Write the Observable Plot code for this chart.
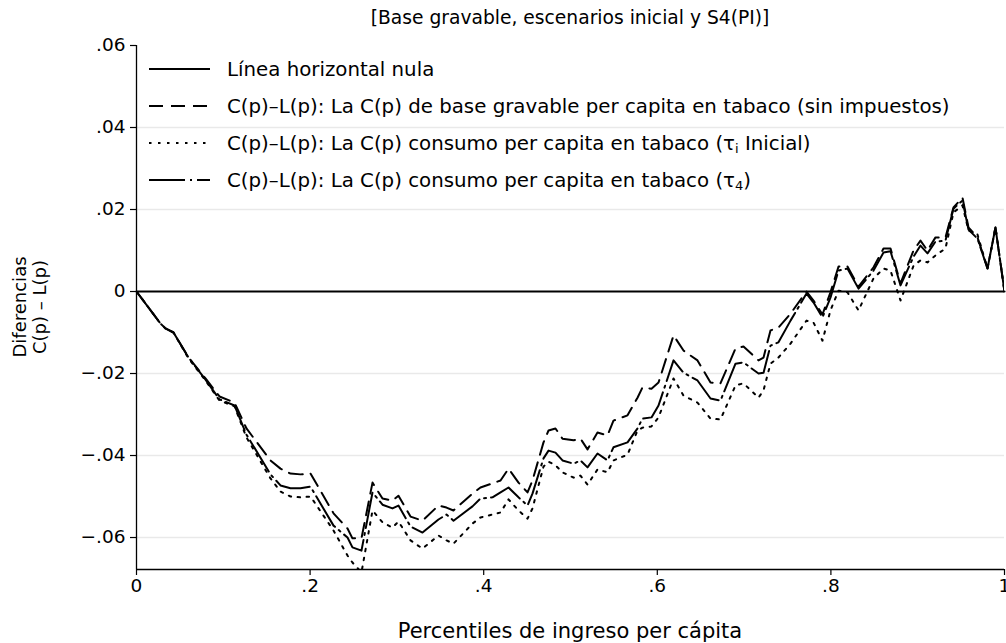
<!DOCTYPE html>
<html>
<head>
<meta charset="utf-8">
<script src="https://cdn.jsdelivr.net/npm/d3@7"></script>
<script src="https://cdn.jsdelivr.net/npm/@observablehq/plot@0.6"></script>
<style>
  html, body { margin: 0; padding: 0; background: #fff; }
  #chart { width: 1006px; height: 643px; }
</style>
</head>
<body>
<div id="chart"></div>
<script>
// Percentiles (p)
const p = [
  0, 0.0276, 0.0334, 0.0426, 0.0599, 0.0795, 0.0956, 0.1129, 0.1267, 0.1544,
  0.1659, 0.1774, 0.1889, 0.2005, 0.2270, 0.2431, 0.2488, 0.2592, 0.2719, 0.2834,
  0.2949, 0.3018, 0.3157, 0.3295, 0.3479, 0.3571, 0.3652, 0.3871, 0.3963, 0.4101,
  0.4194, 0.4286, 0.4401, 0.4505, 0.4562, 0.4689, 0.4747, 0.4827, 0.4908, 0.5035,
  0.5115, 0.5196, 0.5311, 0.5426, 0.5495, 0.5657, 0.5772, 0.5829, 0.5933, 0.6014,
  0.6187, 0.6302, 0.6463, 0.6613, 0.6728, 0.6901, 0.6993, 0.7166, 0.7224, 0.7304,
  0.7396, 0.7535, 0.7719, 0.7800, 0.7903, 0.7995, 0.8088, 0.8191, 0.8318, 0.8491,
  0.8606, 0.8687, 0.8802, 0.8952, 0.9032, 0.9113, 0.9205, 0.9320, 0.9412, 0.9516,
  0.9585, 0.9689, 0.9804, 0.9896, 1
];
// C(p)-L(p): base gravable per capita en tabaco (sin impuestos)  [dashed]
const baseGravable = [
  0, -0.0078, -0.0090, -0.0100, -0.0161, -0.0212, -0.0256, -0.0271, -0.0334, -0.0412,
  -0.0432, -0.0444, -0.0446, -0.0444, -0.0541, -0.0578, -0.0602, -0.0602, -0.0466, -0.0505,
  -0.0510, -0.0498, -0.0549, -0.0559, -0.0522, -0.0527, -0.0534, -0.0493, -0.0478, -0.0468,
  -0.0461, -0.0432, -0.0466, -0.0490, -0.0461, -0.0368, -0.0339, -0.0334, -0.0359, -0.0363,
  -0.0359, -0.0385, -0.0344, -0.0351, -0.0315, -0.0302, -0.0259, -0.0234, -0.0237, -0.0222,
  -0.0107, -0.0144, -0.0168, -0.0222, -0.0224, -0.0139, -0.0134, -0.0168, -0.0161, -0.0095,
  -0.0088, -0.0054, 0.0000, -0.0022, -0.0056, -0.0002, 0.0061, 0.0061, 0.0012, 0.0059,
  0.0105, 0.0105, 0.0020, 0.0100, 0.0124, 0.0100, 0.0132, 0.0132, 0.0205, 0.0229,
  0.0156, 0.0132, 0.0056, 0.0156, 0
];
// C(p)-L(p): consumo per capita en tabaco (tau_i Inicial)  [dotted]
const tauInicial = [
  0, -0.0078, -0.0090, -0.0100, -0.0163, -0.0217, -0.0266, -0.0280, -0.0356, -0.0456,
  -0.0488, -0.0500, -0.0502, -0.0500, -0.0583, -0.0644, -0.0661, -0.0685, -0.0534, -0.0563,
  -0.0576, -0.0561, -0.0607, -0.0627, -0.0595, -0.0607, -0.0615, -0.0566, -0.0551, -0.0544,
  -0.0539, -0.0507, -0.0534, -0.0554, -0.0529, -0.0427, -0.0415, -0.0424, -0.0441, -0.0454,
  -0.0449, -0.0471, -0.0434, -0.0441, -0.0412, -0.0398, -0.0339, -0.0332, -0.0329, -0.0307,
  -0.0212, -0.0254, -0.0271, -0.0310, -0.0312, -0.0229, -0.0224, -0.0259, -0.0241, -0.0176,
  -0.0161, -0.0127, -0.0071, -0.0076, -0.0120, -0.0046, 0.0002, -0.0002, -0.0046, 0.0032,
  0.0056, 0.0051, -0.0022, 0.0063, 0.0076, 0.0071, 0.0088, 0.0105, 0.0193, 0.0210,
  0.0149, 0.0139, 0.0056, 0.0156, 0
];
// C(p)-L(p): consumo per capita en tabaco (tau_4)  [dash-dot]
const tau4 = [
  0, -0.0078, -0.0090, -0.0100, -0.0161, -0.0215, -0.0263, -0.0278, -0.0349, -0.0446,
  -0.0473, -0.0480, -0.0480, -0.0476, -0.0571, -0.0600, -0.0624, -0.0632, -0.0490, -0.0520,
  -0.0529, -0.0522, -0.0573, -0.0588, -0.0556, -0.0544, -0.0559, -0.0524, -0.0505, -0.0502,
  -0.0490, -0.0478, -0.0502, -0.0522, -0.0493, -0.0407, -0.0388, -0.0393, -0.0412, -0.0420,
  -0.0412, -0.0429, -0.0395, -0.0412, -0.0380, -0.0368, -0.0334, -0.0310, -0.0307, -0.0278,
  -0.0168, -0.0198, -0.0217, -0.0261, -0.0266, -0.0176, -0.0173, -0.0200, -0.0198, -0.0132,
  -0.0124, -0.0071, -0.0005, -0.0027, -0.0063, -0.0015, 0.0051, 0.0056, 0.0007, 0.0051,
  0.0095, 0.0098, 0.0015, 0.0085, 0.0112, 0.0093, 0.0122, 0.0124, 0.0202, 0.0222,
  0.0151, 0.0129, 0.0056, 0.0156, 0
];
const yTicks = [-0.06, -0.04, -0.02, 0, 0.02, 0.04, 0.06];
const xTicks = [0, 0.2, 0.4, 0.6, 0.8, 1];
const yDomain = [-0.0678, 0.06];

const title = "[Base gravable, escenarios inicial y S4(PI)]";
const xTitle = "Percentiles de ingreso per cápita";
const yTitle = ["Diferencias", "C(p) – L(p)"];
const legendItems = [
  { label: ["Línea horizontal nula"], dash: null },
  { label: ["C(p)–L(p): La C(p) de base gravable per capita en tabaco (sin impuestos)"], dash: "14,8" },
  { label: ["C(p)–L(p): La C(p) consumo per capita en tabaco (τ", "i", " Inicial)"], dash: "2.5,6.5" },
  { label: ["C(p)–L(p): La C(p) consumo per capita en tabaco (τ", "4", ")"], dash: "36,5,2,5" }
];

const fmtY = v => v === 0 ? "0" : (v < 0 ? "−" : "") + Math.abs(v).toFixed(2).replace(/^0/, "");
const fmtX = v => v === 0 ? "0" : v === 1 ? "1" : v.toFixed(1).replace(/^0/, "");

const rows = (vals) => p.map((x, i) => ({ p: x, v: vals[i] }));
const nullLine = [0, 1].map(x => ({ p: x, v: 0 }));

const FONT = "DejaVu Sans";

const chart = Plot.plot({
  width: 1006,
  height: 643,
  marginLeft: 136,
  marginRight: 2,
  marginTop: 45,
  marginBottom: 74,
  style: { fontFamily: FONT, fontSize: "18px", background: "#fff", color: "#000" },
  x: { domain: [0, 1] },
  y: { domain: yDomain },
  marks: [
    Plot.gridY(yTicks.filter(t => t !== 0 && t !== 0.06), { stroke: "#e9e9e9", strokeOpacity: 1, strokeWidth: 1.5 }),
    Plot.axisY(yTicks, { tickFormat: fmtY, tickSize: 6, tickPadding: 5, fontSize: 18.5, label: null, strokeWidth: 1.2 }),
    Plot.axisX(xTicks, { tickFormat: fmtX, tickSize: 6, tickPadding: 3, fontSize: 18.5, label: null, strokeWidth: 1.2 }),
    Plot.ruleX([0], { strokeWidth: 1.3 }),
    Plot.ruleY([yDomain[0]], { strokeWidth: 1.3 }),
    Plot.line(nullLine, { x: "p", y: "v", stroke: "#000", strokeWidth: 2.2 }),
    Plot.line(rows(baseGravable), { x: "p", y: "v", stroke: "#000", strokeWidth: 2, strokeDasharray: "14,8", clip: true }),
    Plot.line(rows(tauInicial), { x: "p", y: "v", stroke: "#000", strokeWidth: 2, strokeDasharray: "2.5,6.5", clip: true }),
    Plot.line(rows(tau4), { x: "p", y: "v", stroke: "#000", strokeWidth: 2, strokeDasharray: "36,5,2,5", clip: true })
  ]
});

const svg = d3.select(chart);
const add = (x, y, txt, opts = {}) => {
  const t = svg.append("text")
    .attr("x", x).attr("y", y)
    .attr("font-family", FONT)
    .attr("font-size", opts.size || 18)
    .attr("fill", "#000")
    .attr("text-anchor", opts.anchor || "middle")
    .attr("dominant-baseline", "central");
  if (opts.rotate) t.attr("transform", `rotate(-90 ${x} ${y})`);
  t.text(txt);
  return t;
};

add(570, 17, title, { size: 18.7 });
add(570, 631, xTitle, { size: 21 });
add(19, 307, yTitle[0], { size: 18, rotate: true });
add(39, 307, yTitle[1], { size: 18, rotate: true });

// Legend
const legendY0 = 69, legendStep = 37;
legendItems.forEach((it, i) => {
  const y = legendY0 + i * legendStep;
  const ln = svg.append("line")
    .attr("x1", 149).attr("x2", 210).attr("y1", y).attr("y2", y)
    .attr("stroke", "#000").attr("stroke-width", 2);
  if (it.dash) ln.attr("stroke-dasharray", it.dash);
  const t = svg.append("text")
    .attr("x", 227).attr("y", y)
    .attr("font-family", FONT).attr("font-size", 19.8)
    .attr("text-anchor", "start")
    .attr("fill", "#000").attr("dominant-baseline", "central");
  t.append("tspan").text(it.label[0]);
  if (it.label.length > 1) {
    t.append("tspan").attr("font-size", 13).attr("dy", 5).text(it.label[1]);
    t.append("tspan").attr("dy", -5).text(it.label[2]);
  }
});

document.getElementById("chart").appendChild(chart);
</script>
</body>
</html>
